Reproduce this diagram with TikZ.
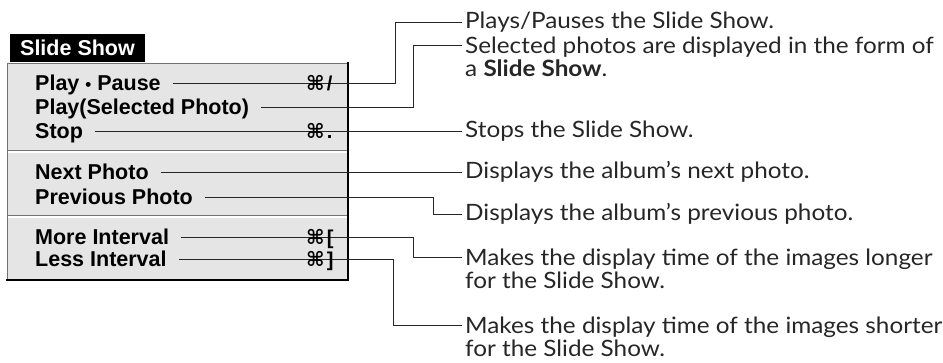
\documentclass[tikz,border=0pt]{standalone}
\usepackage{fontspec}
\setmainfont{Lato}[FakeStretch=1.08]
\newfontfamily\menufont{Liberation Sans}
\newfontfamily\cmdfont{DejaVu Sans}

\begin{document}
\begin{tikzpicture}[x=1pt,y=-1pt,
    item/.style={anchor=west,inner sep=0pt,text height=15.5pt,text depth=0pt,font=\menufont\bfseries\fontsize{21.5}{23}\selectfont},
    hotkey/.style={item,font=\menufont\bfseries\fontsize{20}{23}\selectfont},
    note/.style={anchor=west,inner ysep=0pt,inner xsep=3pt,text=black!85,font=\fontsize{22.5}{22.5}\selectfont},
    notes/.style={note,anchor=north west,align=left},
    lead/.style={black!85,line width=.9pt}]
    \useasboundingbox (0,0) rectangle (943,362);
    % Menu ====================================================
    \fill[black!10] (7,63) rectangle (348,280);
    \draw[black!55,line width=1pt] (7,280) -- (7,63) -- (348,63);
    \draw[black,line width=2.6pt] (348,62) -- (348,280) -- (6,280);
    \draw[black!55] (8,150) -- (347,150); \draw[white,line width=1.2pt] (8,152) -- (347,152);
    \draw[black!55] (8,215) -- (347,215); \draw[white,line width=1.2pt] (8,217) -- (347,217);
    \node[fill=black,text=white,inner sep=0pt,minimum width=135pt,minimum height=28pt,
          font=\menufont\bfseries\fontsize{21.5}{23}\selectfont] (title) at (77.5,48) {Slide Show};
    \node[item] (pp)   at (35,83)  {Play {\fontsize{17}{17}\selectfont•} Pause};
    \node[item] (psel) at (35,107) {Play(Selected Photo)};
    \node[item] (stop) at (35,131) {Stop};
    \node[item] (next) at (35,172) {Next Photo};
    \node[item] (prev) at (35,197) {Previous Photo};
    \node[item] (more) at (35,237) {More Interval};
    \node[item] (less) at (35,259) {Less Interval};
    % Notes ===================================================
    \node[note]  (plays)  at (462,22)  {Plays/Pauses the Slide Show.};
    \node[notes] (sel)    at (462,37)  {Selected photos are displayed in the form of\\a \textbf{Slide Show}.};
    \node[note]  (stops)  at (462,131) {Stops the Slide Show.};
    \node[note]  (nextph) at (462,172) {Displays the album’s next photo.};
    \node[note]  (prevph) at (462,214) {Displays the album’s previous photo.};
    \node[notes] (longer) at (462,249) {Makes the display time of the images longer\\for the Slide Show.};
    \node[notes] (shorter) at (462,317) {Makes the display time of the images shorter\\for the Slide Show.};
    % Leaders =================================================
    \draw[lead] ([xshift=12pt]pp.east) -| ([xshift=-67pt]plays.west) -- (plays.west);
    \draw[lead] ([xshift=12pt]psel.east) -| ([xshift=-49pt,yshift=-8pt]sel.north west) -- ([yshift=-8pt]sel.north west);
    \draw[lead] ([xshift=12pt]stop.east) -- (stops.west);
    \draw[lead] ([xshift=12pt]next.east) -- (nextph.west);
    \draw[lead] ([xshift=12pt]prev.east) -| ([xshift=-29pt]prevph.west) -- (prevph.west);
    \draw[lead] ([xshift=12pt]more.east) -| ([xshift=-49pt,yshift=-8pt]longer.north west) -- ([yshift=-8pt]longer.north west);
    \draw[lead] ([xshift=12pt]less.east) -| ([xshift=-69pt,yshift=-8pt]shorter.north west) -- ([yshift=-8pt]shorter.north west);
    % Shortcuts
    \node[hotkey] (kpp)   at (306,83)  {{\cmdfont ⌘}\hspace{2pt}/};
    \node[hotkey] (kstop) at (306,131) {{\cmdfont ⌘}\hspace{2pt}.};
    \node[hotkey] (kmore) at (306,237) {{\cmdfont ⌘}\hspace{2pt}[};
    \node[hotkey] (kless) at (306,259) {{\cmdfont ⌘}\hspace{2pt}]};
\end{tikzpicture}
\end{document}
